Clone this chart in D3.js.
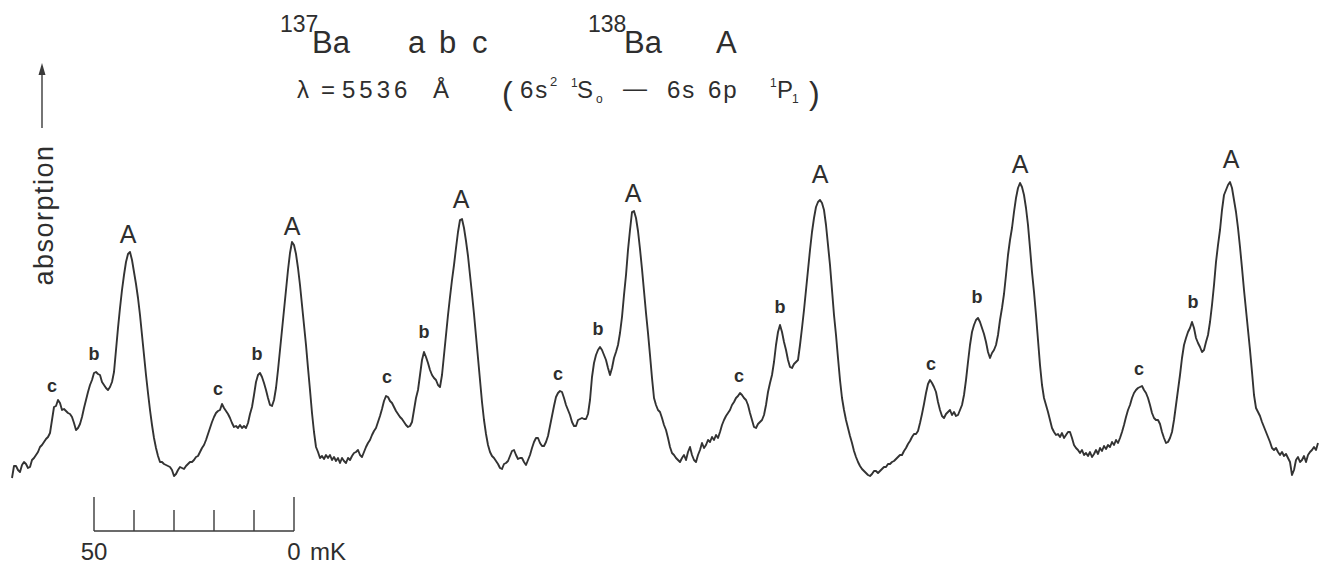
<!DOCTYPE html>
<html>
<head>
<meta charset="utf-8">
<script src="https://cdn.jsdelivr.net/npm/d3@7"></script>
<style>
  html, body { margin: 0; padding: 0; background: #fff; }
  svg { display: block; }
  text { font-family: "Liberation Sans", Arial, sans-serif; fill: #2e2e2e; }
</style>
</head>
<body>
<svg id="chart" width="1328" height="574"></svg>
<script>
"use strict";

// recorder trace: one reading every 0.5 mK, absorption in arbitrary units
const scanStart = 0;   // mK
const scanStep = 0.5;  // mK
const absorption = [
  2, 14, 14, 10, 8, 15, 18, 16, 12, 13, 20, 22, 25, 28, 33, 35, 38, 41, 43, 47,
  60, 73, 74, 80, 77, 70, 71, 69, 67, 66, 63, 57, 50, 52, 56, 63, 72, 80, 88, 95,
  100, 107, 108, 106, 105, 98, 95, 92, 90, 93, 98, 108, 130, 152, 172, 190, 205, 218, 226, 228,
  220, 208, 196, 182, 165, 145, 125, 105, 87, 70, 55, 42, 32, 24, 18, 18, 16, 15, 14, 13,
  10, 4, 6, 10, 13, 12, 11, 14, 16, 18, 18, 20, 23, 24, 28, 32, 35, 40, 46, 52,
  58, 63, 67, 69, 70, 76, 72, 69, 66, 62, 57, 53, 54, 52, 55, 52, 54, 52, 57, 66,
  73, 85, 98, 105, 107, 103, 97, 90, 82, 75, 74, 80, 92, 110, 130, 150, 170, 190, 210, 227,
  238, 235, 226, 212, 195, 175, 155, 135, 112, 90, 67, 48, 33, 28, 22, 24, 21, 25, 22, 25,
  20, 23, 19, 22, 17, 22, 19, 17, 22, 20, 24, 27, 28, 30, 25, 23, 28, 33, 37, 40,
  45, 49, 52, 58, 64, 71, 79, 84, 83, 79, 77, 73, 69, 66, 63, 61, 58, 55, 53, 54,
  58, 70, 82, 90, 105, 120, 128, 123, 117, 110, 105, 102, 100, 95, 93, 105, 125, 145, 165, 183,
  200, 215, 232, 248, 260, 261, 252, 239, 224, 205, 186, 166, 144, 122, 100, 78, 60, 46, 35, 28,
  24, 22, 19, 16, 12, 11, 16, 17, 19, 24, 29, 30, 25, 21, 22, 22, 18, 15, 20, 25,
  32, 38, 42, 42, 37, 34, 34, 38, 44, 54, 64, 74, 83, 87, 89, 88, 82, 75, 70, 65,
  58, 54, 54, 60, 61, 62, 61, 61, 66, 80, 103, 117, 125, 130, 133, 130, 125, 120, 112, 105,
  112, 122, 128, 135, 147, 163, 185, 205, 230, 250, 268, 269, 262, 249, 231, 211, 189, 167, 147, 125,
  102, 82, 75, 70, 68, 62, 55, 50, 42, 33, 27, 25, 22, 20, 18, 22, 25, 20, 28, 33,
  25, 20, 18, 25, 30, 37, 32, 35, 40, 38, 43, 40, 45, 42, 48, 55, 60, 64, 67, 70,
  75, 78, 82, 84, 87, 85, 82, 80, 75, 67, 60, 53, 52, 56, 58, 60, 65, 75, 88, 97,
  105, 118, 135, 148, 155, 148, 138, 130, 120, 113, 112, 116, 118, 120, 135, 152, 170, 190, 210, 230,
  248, 262, 273, 278, 280, 277, 270, 255, 235, 215, 190, 165, 145, 122, 100, 82, 70, 60, 52, 44,
  37, 29, 23, 18, 14, 11, 9, 7, 5, 4, 6, 9, 9, 7, 9, 11, 13, 13, 16, 16,
  18, 19, 21, 23, 25, 25, 29, 32, 36, 39, 43, 46, 46, 49, 57, 66, 76, 87, 96, 100,
  97, 93, 88, 78, 70, 64, 62, 66, 68, 70, 65, 68, 64, 65, 70, 75, 85, 100, 118, 135,
  148, 155, 160, 162, 158, 152, 146, 138, 128, 122, 127, 130, 135, 145, 160, 172, 186, 205, 225, 240,
  252, 268, 282, 292, 297, 293, 285, 272, 255, 232, 208, 188, 165, 140, 115, 95, 82, 75, 68, 60,
  52, 48, 45, 46, 43, 47, 42, 45, 48, 48, 42, 35, 32, 30, 27, 30, 25, 27, 24, 28,
  23, 26, 30, 26, 32, 29, 34, 31, 35, 33, 38, 35, 40, 37, 42, 48, 55, 63, 70, 75,
  82, 87, 90, 92, 93, 94, 90, 87, 82, 75, 67, 62, 60, 60, 56, 48, 42, 37, 38, 42,
  48, 60, 75, 90, 105, 122, 135, 142, 148, 152, 158, 152, 142, 137, 133, 128, 130, 138, 145, 158,
  175, 195, 218, 235, 250, 270, 285, 290, 295, 298, 292, 280, 268, 252, 233, 212, 190, 170, 150, 130,
  108, 85, 72, 68, 64, 58, 53, 48, 43, 38, 32, 30, 32, 28, 25, 28, 24, 26, 22, 18,
  5, 10, 20, 23, 18, 20, 24, 18, 25, 28, 30, 33, 30, 37
];

// peak letters written over the trace (position in mK / a.u.)
const peakLetters = ["c", "b", "A", "c", "b", "A", "c", "b", "A", "c", "b", "A", "c", "b", "A", "c", "b", "A", "c", "b", "A"];
const peakLabelX = [10, 20.5, 29, 51.5, 61.25, 70, 93.75, 103, 112.25, 136.5, 146.5, 155.25, 181.75, 192, 202, 229.75, 241.25, 252, 281.75, 295.25, 304.75];
const peakLabelY = [88, 120, 237, 85, 120, 245, 97, 142, 272, 100, 145, 278, 98, 167, 297, 110, 177, 307, 105, 172, 312];

// 50 mK scale bar
const barTicks = [20.5, 30.5, 40.5, 50.5, 60.5, 70.5];
const barTickText = ["50", "", "", "", "", "0"];
const barUnit = "mK";

const svg = d3.select("#chart");

const x = d3.scaleLinear()
    .domain([0, (absorption.length - 1) * scanStep])
    .range([12, 1318]);

const y = d3.scaleLinear()
    .domain([0, 300])
    .range([480, 180]);

// trace
const line = d3.line()
    .x((d, i) => x(scanStart + i * scanStep))
    .y(d => y(d));

svg.append("path")
    .datum(absorption)
    .attr("d", line)
    .attr("fill", "none")
    .attr("stroke", "#333")
    .attr("stroke-width", 1.9)
    .attr("stroke-linejoin", "round");

// peak labels
svg.append("g")
  .selectAll("text")
  .data(peakLetters)
  .join("text")
    .attr("x", (d, i) => x(peakLabelX[i]))
    .attr("y", (d, i) => y(peakLabelY[i]))
    .attr("text-anchor", "middle")
    .attr("font-size", d => d === "A" ? 25 : 18)
    .attr("font-weight", d => d === "A" ? "normal" : "bold")
    .attr("fill", "#3a3a3a")
    .text(d => d);

// scale bar
const barY = 531;
const bar = svg.append("g").attr("stroke", "#3a3a3a").attr("stroke-width", 1.4);
bar.append("line")
    .attr("x1", x(barTicks[0])).attr("x2", x(barTicks[barTicks.length - 1]))
    .attr("y1", barY).attr("y2", barY);
bar.selectAll("line.tick")
  .data(barTicks)
  .join("line")
    .attr("class", "tick")
    .attr("x1", d => x(d)).attr("x2", d => x(d))
    .attr("y1", barY)
    .attr("y2", (d, i) => (i === 0 || i === barTicks.length - 1) ? barY - 34 : barY - 21);

svg.append("g")
  .selectAll("text")
  .data(barTickText.filter(t => t !== ""))
  .join("text")
    .attr("x", d => x(barTicks[barTickText.indexOf(d)]))
    .attr("y", 560)
    .attr("text-anchor", "middle")
    .attr("font-size", 24)
    .text(d => d);

svg.append("text")
    .attr("x", x(barTicks[barTicks.length - 1]) + 16)
    .attr("y", 560)
    .attr("font-size", 24)
    .text(barUnit);

// vertical axis note
svg.append("text")
    .attr("transform", "translate(53,215) rotate(-90)")
    .attr("text-anchor", "middle")
    .attr("font-size", 27)
    .attr("letter-spacing", 1.5)
    .attr("fill", "#444")
    .text("absorption");

svg.append("line")
    .attr("x1", 42).attr("x2", 42)
    .attr("y1", 128).attr("y2", 70)
    .attr("stroke", "#3a3a3a").attr("stroke-width", 1.4);
svg.append("path")
    .attr("d", "M42,63 L38.5,75 L45.5,75 Z")
    .attr("fill", "#3a3a3a");

// title
const title = svg.append("g");
function put(str, px, py, size, extra) {
  const t = title.append("text")
      .attr("x", px).attr("y", py)
      .attr("font-size", size)
      .text(str);
  if (extra) t.attr("letter-spacing", extra);
  return t;
}
put("137", 280, 32, 23);
put("Ba", 312, 53, 31);
put("a", 408, 53, 31);
put("b", 439, 53, 31);
put("c", 472, 53, 31);
put("138", 588, 32, 23);
put("Ba", 624, 53, 31);
put("A", 716, 53, 31);

put("λ", 297, 98, 24);
put("=", 321, 98, 24);
put("5536", 342, 98, 24, 4);
put("Å", 433, 98, 24);
put("(", 502, 104, 32);
put("6s", 520, 98, 24, 2);
put("2", 550, 86, 13);
put("1", 571, 87, 12);
put("S", 577, 98, 24);
put("o", 596, 103, 12);
put("—", 623, 96, 24);
put("6s", 667, 98, 24, 2);
put("6p", 708, 98, 24, 2);
put("1", 770, 87, 12);
put("P", 777, 98, 24);
put("1", 792, 103, 12);
put(")", 809, 104, 32);
</script>
</body>
</html>
